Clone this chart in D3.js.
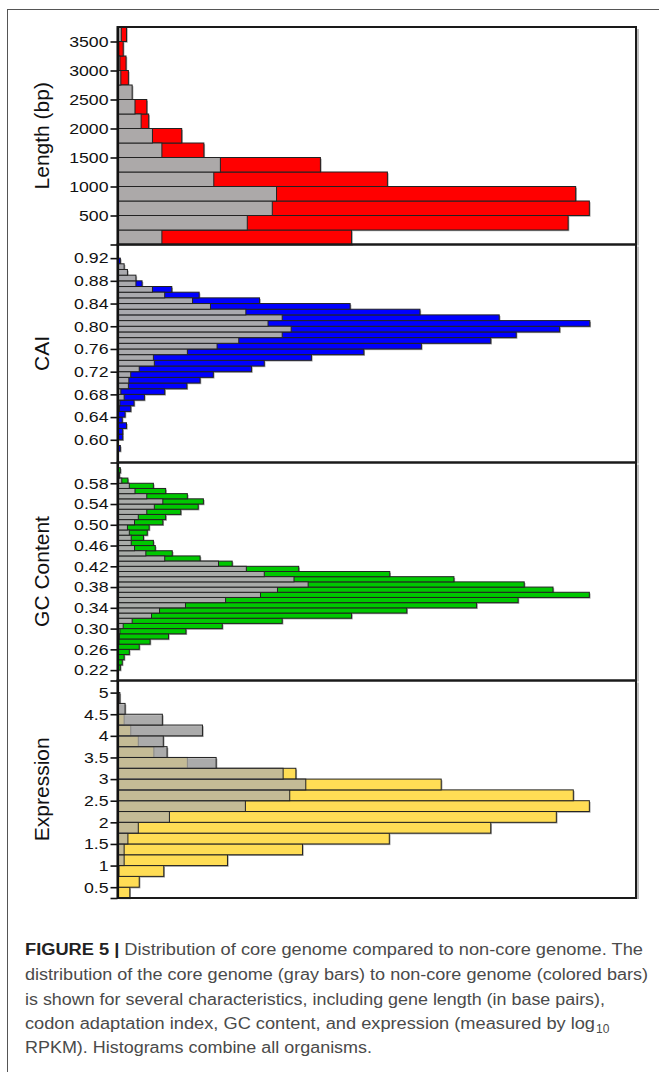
<!DOCTYPE html>
<html>
<head>
<meta charset="utf-8">
<script src="https://cdn.jsdelivr.net/npm/d3@7/dist/d3.min.js"></script>
<style>
  body { margin: 0; background: #fff; }
  svg { display: block; font-family: "Liberation Sans", Arial, sans-serif; }
</style>
</head>
<body>
<div id="chart"></div>
<script>
// ---- data (bin lower edges, core = gray bars, non-core = coloured bars, % of largest bar) ----
var lengthBins = [0, 250, 500, 750, 1000, 1250, 1500, 1750, 2000, 2250, 2500, 2750, 3000, 3250, 3500];
var lengthCore = [9.3, 27.4, 32.7, 33.6, 20.3, 21.7, 9.3, 7.3, 4.9, 3.6, 3.0, 0.6, 0.4, 0.15, 0.7];
var lengthNonCore = [49.5, 95.4, 99.9, 97.0, 57.1, 42.9, 18.2, 13.5, 6.5, 6.1, 0, 2.2, 1.7, 1.1, 1.8];
var lengthTicks = [0, 500, 1000, 1500, 2000, 2500, 3000, 3500];

var caiBins = [0.58, 0.59, 0.60, 0.61, 0.62, 0.63, 0.64, 0.65, 0.66, 0.67, 0.68, 0.69, 0.70, 0.71, 0.72, 0.73, 0.74,
  0.75, 0.76, 0.77, 0.78, 0.79, 0.80, 0.81, 0.82, 0.83, 0.84, 0.85, 0.86, 0.87, 0.88, 0.89, 0.90, 0.91];
var caiCore = [0, 0, 0, 0, 0, 0, 0.1, 0.3, 0.4, 1.3, 0.6, 2.2, 2.3, 2.7, 4.5, 7.7, 7.5,
  14.7, 21.0, 25.6, 34.8, 36.7, 31.8, 34.8, 27.1, 19.6, 15.8, 9.9, 7.3, 3.8, 3.8, 2.0, 1.3, 0];
var caiNonCore = [0.5, 0, 1.0, 1.0, 1.8, 0.9, 1.5, 2.7, 3.4, 5.6, 9.9, 14.6, 17.4, 20.2, 28.3, 31.0, 41.0,
  52.1, 64.3, 79.0, 84.4, 93.6, 100, 80.8, 64.0, 49.2, 30.0, 17.2, 11.4, 5.1, 0, 0, 0, 0.5];
var caiTicks = [0.56, 0.60, 0.64, 0.68, 0.72, 0.76, 0.80, 0.84, 0.88, 0.92];

var gcBins = [0.22, 0.23, 0.24, 0.25, 0.26, 0.27, 0.28, 0.29, 0.30, 0.31, 0.32, 0.33, 0.34, 0.35, 0.36, 0.37, 0.38,
  0.39, 0.40, 0.41, 0.42, 0.43, 0.44, 0.45, 0.46, 0.47, 0.48, 0.49, 0.50, 0.51, 0.52, 0.53, 0.54, 0.55, 0.56,
  0.57, 0.58, 0.59, 0.60];
var gcCore = [0, 0, 0, 0, 0, 0.2, 0.3, 0.4, 1.1, 3.0, 7.1, 8.8, 14.3, 22.8, 30.2, 33.8, 40.3,
  37.3, 31.0, 27.2, 21.3, 9.9, 5.9, 3.5, 2.8, 2.8, 2.4, 2.0, 3.5, 4.3, 6.1, 7.7, 9.5, 6.1, 3.6,
  2.4, 0.8, 0.3, 0];
var gcNonCore = [0.5, 0.9, 1.3, 2.4, 4.5, 6.8, 10.7, 14.4, 22.1, 34.8, 49.5, 61.2, 76.0, 84.8, 99.9, 92.2, 86.1,
  71.2, 57.6, 38.3, 24.2, 17.4, 11.5, 7.9, 7.5, 5.4, 6.2, 6.6, 9.5, 10.1, 13.3, 17.0, 18.1, 14.7, 10.1,
  7.5, 2.1, 0, 0.5];
var gcTicks = [0.20, 0.22, 0.26, 0.30, 0.34, 0.38, 0.42, 0.46, 0.50, 0.54, 0.58];

var exprBins = [0.25, 0.5, 0.75, 1.0, 1.25, 1.5, 1.75, 2.0, 2.25, 2.5, 2.75, 3.0, 3.25, 3.5, 3.75, 4.0, 4.25, 4.5, 4.75];
var exprCore = [0, 0, 0.2, 1.3, 1.3, 2.1, 4.3, 10.9, 27.0, 36.4, 39.8, 35.0, 20.8, 10.4, 9.6, 17.9, 9.4, 1.5, 0.4];
var exprNonCore = [2.5, 4.5, 9.7, 23.2, 39.1, 57.5, 79.0, 92.9, 99.9, 96.5, 68.5, 37.7, 14.7, 7.6, 4.3, 2.7, 1.3, 0, 0.3];
var exprTicks = [0.25, 0.5, 1, 1.5, 2, 2.5, 3, 3.5, 4, 4.5, 5];

var captionLines = [
  "distribution of the core genome (gray bars) to non-core genome (colored bars)",
  "is shown for several characteristics, including gene length (in base pairs),",
  "codon adaptation index, GC content, and expression (measured by log",
  "RPKM). Histograms combine all organisms."
];

// ---- layout ----
var W = 659, H = 1072;
var axisX = 117.5, rightX = 636;

var svg = d3.select("#chart").append("svg")
  .attr("width", W)
  .attr("height", H);

// outer figure frame (right and bottom edges fall outside the picture)
svg.append("rect")
  .attr("x", 7.5).attr("y", 9.5)
  .attr("width", 720).attr("height", 1100)
  .attr("fill", "none")
  .attr("stroke", "#555")
  .attr("stroke-width", 1);

var x = d3.scaleLinear().domain([0, 110]).range([118, 637]);

var panels = [
  { title: "Length (bp)", top: 27, bottom: 244.5, domain: [0, 3750], binW: 250,
    bins: lengthBins, core: lengthCore, other: lengthNonCore, ticks: lengthTicks,
    color: "#ff0000", gray: "#aca9a9", grayOpacity: 1, fmt: function(d) { return d === 0 ? "" : d; } },
  { title: "CAI", top: 244.5, bottom: 462.5, domain: [0.56, 0.944], binW: 0.01,
    bins: caiBins, core: caiCore, other: caiNonCore, ticks: caiTicks,
    color: "#0000ff", gray: "#aaaaae", grayOpacity: 1, fmt: function(d) { return d === 0.56 ? "" : d3.format(".2f")(d); } },
  { title: "GC Content", top: 462.5, bottom: 680.5, domain: [0.2, 0.62], binW: 0.01,
    bins: gcBins, core: gcCore, other: gcNonCore, ticks: gcTicks,
    color: "#00c800", gray: "#a9aca9", grayOpacity: 1, fmt: function(d) { return d === 0.2 ? "" : d3.format(".2f")(d); } },
  { title: "Expression", top: 680.5, bottom: 898, domain: [0.25, 5.28], binW: 0.25,
    bins: exprBins, core: exprCore, other: exprNonCore, ticks: exprTicks,
    color: "#ffdd55", gray: "#aeaeae", grayOpacity: 0.735, fmt: function(d) { return d === 0.25 ? "" : d; } }
];

panels.forEach(function(p) {
  var y = d3.scaleLinear().domain(p.domain).range([p.bottom, p.top]);
  var g = svg.append("g");

  var rows = p.bins.map(function(lo, i) {
    return { lo: lo, hi: lo + p.binW, core: p.core[i], other: p.other[i] };
  });

  // little drop shadows like the original spreadsheet bars
  g.selectAll(".shadow")
    .data(rows.filter(function(d) { return Math.max(d.core, d.other) > 0; }))
    .enter()
    .append("rect")
    .attr("class", "shadow")
    .attr("x", x(0) + 1.2)
    .attr("y", function(d) { return y(d.hi) + 1.2; })
    .attr("width", function(d) { return x(Math.max(d.core, d.other)) - x(0); })
    .attr("height", function(d) { return y(d.lo) - y(d.hi); })
    .attr("fill", "#a0a0a0");

  // non-core (coloured) bars behind
  g.selectAll(".other")
    .data(rows.filter(function(d) { return d.other > 0; }))
    .enter()
    .append("rect")
    .attr("class", "other")
    .attr("x", x(0))
    .attr("y", function(d) { return y(d.hi); })
    .attr("width", function(d) { return x(d.other) - x(0); })
    .attr("height", function(d) { return y(d.lo) - y(d.hi); })
    .attr("fill", p.color)
    .attr("stroke", "#222")
    .attr("stroke-width", 1);

  // core (gray) bars on top
  g.selectAll(".core")
    .data(rows.filter(function(d) { return d.core > 0; }))
    .enter()
    .append("rect")
    .attr("class", "core")
    .attr("x", x(0))
    .attr("y", function(d) { return y(d.hi); })
    .attr("width", function(d) { return x(d.core) - x(0); })
    .attr("height", function(d) { return y(d.lo) - y(d.hi); })
    .attr("fill", p.gray)
    .attr("fill-opacity", p.grayOpacity)
    .attr("stroke", "#222")
    .attr("stroke-width", 1);

  // panel box + its shadow
  g.append("line")
    .attr("x1", rightX + 2).attr("x2", rightX + 2)
    .attr("y1", p.top + 2).attr("y2", p.bottom + 1)
    .attr("stroke", "#aaa").attr("stroke-width", 1.5);
  g.append("rect")
    .attr("x", axisX).attr("y", p.top)
    .attr("width", rightX - axisX).attr("height", p.bottom - p.top)
    .attr("fill", "none")
    .attr("stroke", "#1a1a1a")
    .attr("stroke-width", 2);

  // y axis
  var axis = d3.axisLeft(y)
    .tickValues(p.ticks)
    .tickFormat(p.fmt)
    .tickSize(7)
    .tickSizeOuter(0)
    .tickPadding(2);

  var ax = g.append("g")
    .attr("transform", "translate(" + axisX + ",0)")
    .call(axis);
  ax.select(".domain").attr("stroke", "#111").attr("stroke-width", 2.2);
  ax.selectAll(".tick line").attr("stroke", "#111").attr("stroke-width", 1.6);
  ax.selectAll(".tick text")
    .attr("fill", "#111")
    .style("font-family", '"Liberation Sans", Arial, sans-serif')
    .style("font-size", "15px")
    .each(function() {
      // the original labels are a bit wider than Arial at this height
      var w = this.getComputedTextLength();
      if (w > 0) {
        d3.select(this).attr("textLength", w * 1.18).attr("lengthAdjust", "spacingAndGlyphs");
      }
    });

  // axis title
  var cy = (p.top + p.bottom) / 2;
  g.append("text")
    .text(p.title)
    .attr("transform", "translate(49," + cy + ") rotate(-90)")
    .attr("text-anchor", "middle")
    .attr("fill", "#111")
    .style("font-size", "21px");
});

// ---- caption ----
var cap = svg.append("g").attr("fill", "#4a4a4a").style("font-size", "16px");
var capX = 25;
var capBase = [955, 980, 1004.6, 1029, 1053.4];
var capWidths = [618, 623, 580, 570, 347];

var first = cap.append("text").attr("x", capX).attr("y", capBase[0]);
first.append("tspan").attr("font-weight", "bold").attr("fill", "#222").text("FIGURE 5 |");
first.append("tspan").text(" Distribution of core genome compared to non-core genome. The");

captionLines.forEach(function(t, i) {
  cap.append("text")
    .attr("x", capX)
    .attr("y", capBase[i + 1])
    .text(t);
});

// stretch each line to the width it has in the figure
cap.selectAll("text").each(function(d, i) {
  d3.select(this).attr("textLength", capWidths[i]).attr("lengthAdjust", "spacingAndGlyphs");
});

// subscript after "log"
cap.append("text")
  .attr("x", capX + capWidths[3] + 1)
  .attr("y", capBase[3] + 4)
  .style("font-size", "12px")
  .text("10");
</script>
</body>
</html>
